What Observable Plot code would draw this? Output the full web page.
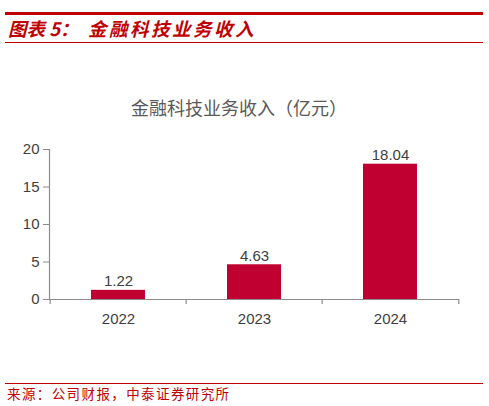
<!DOCTYPE html>
<html>
<head>
<meta charset="utf-8">
<script src="https://cdn.jsdelivr.net/npm/d3@7"></script>
<script src="https://cdn.jsdelivr.net/npm/@observablehq/plot@0.6"></script>
<style>
  html, body { margin: 0; padding: 0; background: #fff; }
  body { width: 489px; height: 406px; position: relative; overflow: hidden; font-family: "Liberation Sans", Arial, sans-serif; }
  .abs { position: absolute; white-space: nowrap; }
  .line { position: absolute; left: 5px; width: 478px; background: #c00000; }
  #head1, #head2 { font-family: "Noto Sans CJK SC", sans-serif; font-weight: bold; font-style: italic; color: #c00000; font-size: 18.5px; line-height: 18px; top: 19px; }
  #title { font-family: "Noto Sans CJK SC", sans-serif; color: #595959; font-size: 18px; line-height: 18px; top: 98px; left: 0; width: 478px; text-align: center; }
  #foot { font-family: "Noto Sans CJK SC", sans-serif; color: #c00000; font-size: 13.5px; line-height: 14px; top: 386px; left: 7px; letter-spacing: 1.4px; }
  #chart { position: absolute; left: 0; top: 120px; }
</style>
</head>
<body>
<div class="line" style="top:12px;height:2.5px;"></div>
<div class="abs" id="head1" style="left:8px;">图表 5：</div>
<div class="abs" id="head2" style="left:88px;letter-spacing:2.5px;">金融科技业务收入</div>
<div class="line" style="top:42px;height:1.2px;"></div>
<div class="abs" id="title">金融科技业务收入（亿元）</div>
<div id="chart"></div>
<div class="line" style="top:383px;height:1.2px;"></div>
<div class="abs" id="foot">来源：公司财报，中泰证券研究所</div>
<script>
const years = ["2022", "2023", "2024"];
const revenue = [1.22, 4.63, 18.04];
const labels = ["1.22", "4.63", "18.04"];
const yTicks = [0, 5, 10, 15, 20];

const data = years.map((y, i) => ({year: y, value: revenue[i], label: labels[i]}));

const W = 489, H = 215, ML = 49, MR = 30;
const step = (W - ML - MR) / years.length;

const plot = Plot.plot({
  width: W,
  height: H,
  marginLeft: ML,
  marginRight: MR,
  marginTop: 29,
  marginBottom: 36,
  style: {fontFamily: "Liberation Sans, Arial, sans-serif", fontSize: "15px", color: "#404040", background: "#fff"},
  x: {domain: years, paddingInner: 0.6, paddingOuter: 0.3, label: null},
  y: {domain: [0, 20], label: null},
  marks: [
    Plot.barY(data, {x: "year", y: "value", fill: "#c00030"}),
    Plot.frame({anchor: "left", stroke: "#8c8c8c", strokeWidth: 1.2}),
    Plot.ruleY([0], {stroke: "#8c8c8c", strokeWidth: 1.2}),
    Plot.ruleX(years, {x: d => d, dx: -step / 2, y1: 0, y2: 0, insetBottom: -5, stroke: "#8c8c8c", strokeWidth: 1.2}),
    Plot.ruleX([years[years.length - 1]], {x: d => d, dx: step / 2, y1: 0, y2: 0, insetBottom: -5, stroke: "#8c8c8c", strokeWidth: 1.2}),
    Plot.axisY({ticks: yTicks, tickSize: 6, tickPadding: 4, stroke: "#8c8c8c", fill: "#404040", fontSize: 15, label: null}),
    Plot.axisX({tickSize: 0, tickPadding: 14, fill: "#404040", fontSize: 15, label: null}),
    Plot.text(data, {x: "year", y: "value", text: "label", lineAnchor: "bottom", dy: -4, fill: "#404040", fontSize: 15})
  ]
});
document.getElementById("chart").appendChild(plot);
</script>
</body>
</html>
